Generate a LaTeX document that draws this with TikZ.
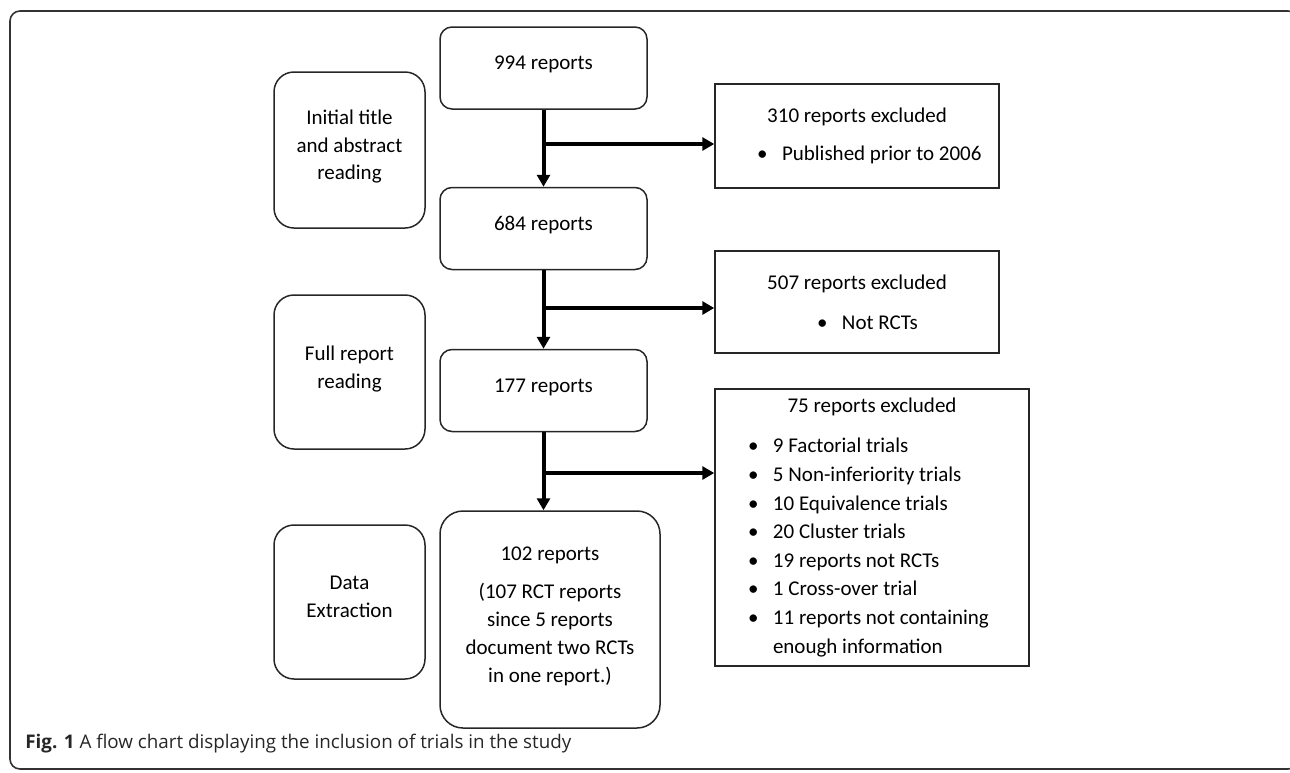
\documentclass[tikz,border=0pt]{standalone}
\usepackage{fontspec}
\setmainfont{Carlito}
\newfontfamily\capfont{Open Sans}
\usetikzlibrary{arrows.meta,positioning}
\tikzstyle{stage} = [draw=black!85, line width=0.75pt, rounded corners=10pt, minimum width=75.5pt, minimum height=77pt, align=center, text depth=5pt, font=\fontsize{10.5pt}{13.8pt}\selectfont]
\tikzstyle{count} = [draw=black!85, line width=0.75pt, rounded corners=6pt, minimum width=103.5pt, minimum height=41pt, align=center, text depth=5pt, font=\fontsize{10.5pt}{14pt}\selectfont]
\tikzstyle{excl} = [draw=black!85, line width=0.75pt, inner xsep=0pt, align=flush left, font=\fontsize{10.5pt}{14.3pt}\selectfont]
\tikzstyle{arrow} = [line width=2pt, -{Triangle[length=6pt,width=6.5pt]}]
\newcommand{\extitle}[1]{\makebox[\linewidth]{#1}}
\newcommand{\exitem}[2]{\hspace*{#1}\makebox[12.5pt][l]{\textbullet}#2}

\begin{document}
\begin{tikzpicture}[x=0.5pt,y=-0.5pt]
\useasboundingbox (0,0) rectangle (1290,772);
\draw [black!80, line width=0.8pt, rounded corners=5pt] (10,11) rectangle (1298,769);
% stages of the review
\draw (349.5,150) node (s1) [stage, minimum height=78pt] {Initial title\\and abstract\\reading};
\draw (349.5,372) node (s2) [stage] {Full report\\reading};
\draw (349.5,602) node (s3) [stage] {Data\\Extraction};
% reports left after each stage
\draw (543.5,68) node (n994) [count] {994 reports};
\draw (543.5,228.5) node (n684) [count] {684 reports};
\draw (543.5,390.5) node (n177) [count] {177 reports};
\draw (550,619.5) node (n102) [count, minimum width=110pt, minimum height=108.5pt, rounded corners=11.5pt] {102 reports\\[5pt](107 RCT reports\\since 5 reports\\document two RCTs\\in one report.)};
% excluded reports
\draw (857,136) node (ex310) [excl, text width=142pt, minimum height=52pt] {\extitle{310 reports excluded}\\[4.5pt]\exitem{21pt}{Published prior to 2006}};
\draw (857,302) node (ex507) [excl, text width=142pt, minimum height=51pt] {\extitle{507 reports excluded}\\[5.5pt]\exitem{51pt}{Not RCTs}};
\draw (872,527.5) node (ex75) [excl, text width=157pt, minimum height=138.5pt] {\extitle{75 reports excluded}\\[5.7pt]
\exitem{16.5pt}{9 Factorial trials}\\
\exitem{16.5pt}{5 Non-inferiority trials}\\
\exitem{16.5pt}{10 Equivalence trials}\\
\exitem{16.5pt}{20 Cluster trials}\\
\exitem{16.5pt}{19 reports not RCTs}\\
\exitem{16.5pt}{1 Cross-over trial}\\
\exitem{16.5pt}{11 reports not containing}\\
\hspace*{29pt}enough information};
% flow
\coordinate (b1) at (543.5,144);
\coordinate (b2) at (543.5,308);
\coordinate (b3) at (543.5,473);
\draw [arrow] (n994)--(n684);
\draw [arrow] (n684)--(n177);
\draw [arrow] (n177.south)--(n177.south |- n102.north);
\draw [arrow] (b1)--(b1 -| ex310.west);
\draw [arrow] (b2)--(b2 -| ex507.west);
\draw [arrow] (b3)--(b3 -| ex75.west);
% caption
\draw (25,748) node (cap) [anchor=base west, inner sep=0pt, text=black!85, font=\capfont\fontsize{9.4pt}{11pt}\selectfont] {\textbf{Fig. 1} A flow chart displaying the inclusion of trials in the study};
\end{tikzpicture}
\end{document}
